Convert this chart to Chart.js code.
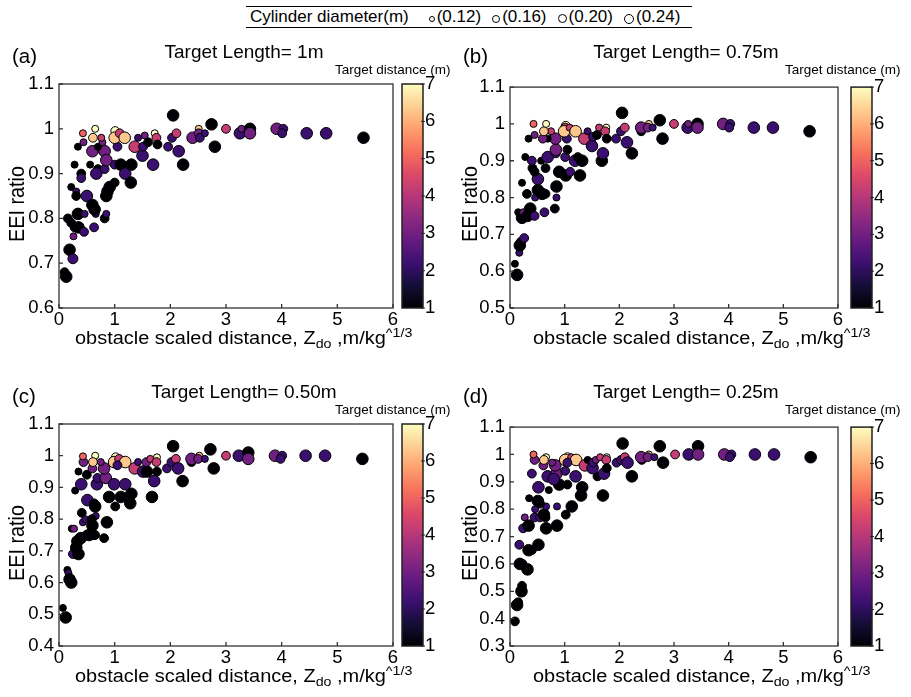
<!DOCTYPE html>
<html>
<head>
<meta charset="utf-8">
<script src="https://cdn.jsdelivr.net/npm/chart.js@4.4.1/dist/chart.umd.min.js"></script>
<style>
  body { margin: 0; background: #fff; width: 911px; height: 697px; position: relative; overflow: hidden;
         font-family: "Liberation Sans", Arial, sans-serif; color: #000; }
  canvas { position: absolute; }
  .txt { position: absolute; white-space: nowrap; line-height: 1; }
  .tag { font-size: 20.5px; }
  .ttl { font-size: 19px; transform: translateX(-50%); }
  .cbt { font-size: 13.5px; }
  .xt { font-size: 17.5px; transform: scaleX(1.14); transform-origin: 0 0; }
  .xt sub { font-size: 12.5px; vertical-align: -4px; }
  .xt sup { font-size: 12.5px; vertical-align: 7px; }
  .yt { font-size: 22px; transform: translate(-50%, -50%) rotate(-90deg) scaleX(0.9); }
  #legend { position: absolute; left: 246px; top: 6px; width: 446px; height: 22px;
            border-top: 1px solid #000; border-bottom: 1px solid #000;
            display: flex; align-items: center; font-size: 17px; padding-left: 4px; box-sizing: border-box; }
  #legend .dot { display: inline-block; border: 1px solid #000; border-radius: 50%; box-sizing: border-box;
                 margin-left: 11px; margin-right: 2px; margin-top: 3px; }
</style>
</head>
<body>
<div id="legend"><span style="margin-right:9px">Cylinder diameter(m)</span></div>

<canvas id="cA" width="452" height="320" style="left:0;top:40px"></canvas>
<canvas id="cB" width="452" height="320" style="left:448px;top:40px"></canvas>
<canvas id="cC" width="452" height="320" style="left:0;top:380px"></canvas>
<canvas id="cD" width="452" height="320" style="left:448px;top:380px"></canvas>

<div class="txt tag" style="left:12px;top:46px">(a)</div>
<div class="txt tag" style="left:463px;top:46px">(b)</div>
<div class="txt tag" style="left:12px;top:386px">(c)</div>
<div class="txt tag" style="left:463px;top:386px">(d)</div>

<div class="txt ttl" id="t0" style="left:244px;top:42px"></div>
<div class="txt ttl" id="t1" style="left:686px;top:42px"></div>
<div class="txt ttl" id="t2" style="left:244px;top:382px"></div>
<div class="txt ttl" id="t3" style="left:686px;top:382px"></div>

<div class="txt cbt" style="left:335px;top:63px">Target distance (m)</div>
<div class="txt cbt" style="left:785px;top:63px">Target distance (m)</div>
<div class="txt cbt" style="left:335px;top:403px">Target distance (m)</div>
<div class="txt cbt" style="left:785px;top:403px">Target distance (m)</div>

<div class="txt yt" style="left:16.5px;top:204px">EEI ratio</div>
<div class="txt yt" style="left:470px;top:204px">EEI ratio</div>
<div class="txt yt" style="left:16.5px;top:543px">EEI ratio</div>
<div class="txt yt" style="left:470px;top:543px">EEI ratio</div>

<div class="txt xt" style="left:75px;top:327px">obstacle scaled distance, Z<sub>do</sub> ,m/kg<sup>^1/3</sup></div>
<div class="txt xt" style="left:533px;top:327px">obstacle scaled distance, Z<sub>do</sub> ,m/kg<sup>^1/3</sup></div>
<div class="txt xt" style="left:75px;top:665px">obstacle scaled distance, Z<sub>do</sub> ,m/kg<sup>^1/3</sup></div>
<div class="txt xt" style="left:533px;top:665px">obstacle scaled distance, Z<sub>do</sub> ,m/kg<sup>^1/3</sup></div>

<script>
// each point: [scaled distance Z, EEI ratio, target distance (m), cylinder diameter (m)]
const panelA = [
  [0.10,0.68,1,.16],[0.13,0.67,1,.24],[0.19,0.73,1,.24],[0.25,0.71,2.2,.20],[0.26,0.76,3,.12],
  [0.16,0.80,1,.16],[0.22,0.79,1,.16],[0.28,0.78,1,.16],[0.35,0.78,1,.24],[0.45,0.77,2.2,.16],
  [0.34,0.81,1,.24],[0.46,0.81,2.2,.12],[0.63,0.78,2.2,.16],[0.66,0.81,2.2,.12],[0.82,0.80,1,.16],
  [0.85,0.81,2.2,.12],[0.22,0.87,1,.12],[0.31,0.86,2.2,.12],[0.31,0.85,1,.16],[0.50,0.85,2.2,.24],
  [0.60,0.83,1,.24],[0.64,0.82,1,.24],[0.85,0.85,1,.24],[0.87,0.86,1,.24],[0.91,0.87,1,.24],
  [1.00,0.88,1,.16],[0.28,0.92,1,.12],[0.40,0.90,1,.16],[0.40,0.89,2.2,.16],[0.56,0.92,1,.12],
  [0.70,0.91,1,.16],[0.67,0.90,2.2,.24],[0.82,0.91,2.2,.16],[1.00,0.92,2.2,.16],[1.11,0.92,1,.24],
  [1.19,0.90,2.2,.24],[1.29,0.88,1,.24],[1.30,0.92,1,.24],[0.34,0.96,1,.12],[0.44,0.97,3,.12],
  [0.60,0.95,3,.24],[0.79,0.95,3,.16],[0.82,0.95,3,.24],[0.85,0.93,3,.24],[0.70,0.96,1,.12],
  [0.78,0.97,3,.12],[0.76,0.98,4.2,.12],[1.05,0.96,2.2,.16],[1.15,0.98,3,.12],[1.36,0.96,4.2,.24],
  [1.42,0.98,2.2,.12],[1.50,0.94,2.2,.24],[1.51,0.96,2.2,.16],[1.60,0.97,1,.16],[1.54,0.985,3,.12],
  [1.69,0.92,2.2,.24],[1.72,0.99,7,.12],[1.75,0.98,4.2,.16],[1.77,0.965,1,.16],[1.96,0.96,2.2,.16],
  [2.03,0.98,2.2,.16],[2.11,0.99,4.2,.16],[2.15,0.95,2.2,.24],[2.23,0.92,1,.24],[2.05,1.03,1,.24],
  [2.40,0.98,3,.24],[2.51,1.00,6.3,.12],[2.51,0.99,3,.16],[2.53,0.98,2.2,.16],[2.62,0.99,2.2,.12],
  [2.74,1.01,1,.24],[2.80,0.96,1,.24],[3.00,1.00,4.2,.16],[0.43,0.99,5,.12],[0.61,0.98,6.3,.16],
  [0.65,1.00,7,.12],[1.01,0.995,7,.16],[1.00,0.98,6.3,.24],[1.09,0.99,4.2,.16],[1.18,0.98,6.3,.24],
  [3.25,0.99,2.2,.24],[3.28,1.00,3,.12],[3.43,1.00,1,.24],[3.43,0.99,3,.24],[3.91,1.00,3,.24],
  [4.03,1.00,2.2,.16],[4.01,0.99,2.2,.16],[4.45,0.99,2.2,.24],[4.80,0.99,2.2,.24],[5.47,0.98,1,.24]
];
const panelB = [
  [0.13,0.59,1,.24],[0.09,0.62,1,.12],[0.17,0.65,2.2,.12],[0.18,0.67,1,.24],[0.20,0.68,1,.16],
  [0.26,0.69,2.2,.16],[0.15,0.76,1,.12],[0.22,0.745,1,.24],[0.24,0.76,3,.12],[0.32,0.75,1,.24],
  [0.37,0.77,1,.24],[0.45,0.75,2.2,.16],[0.63,0.76,2.2,.16],[0.82,0.77,1,.16],[0.22,0.84,1,.12],
  [0.31,0.81,1,.16],[0.46,0.80,2.2,.12],[0.51,0.82,1,.24],[0.59,0.81,1,.24],[0.65,0.81,1,.16],
  [0.85,0.80,2.2,.12],[0.85,0.83,1,.24],[0.51,0.85,2.2,.24],[0.45,0.87,1,.16],[0.41,0.88,1,.16],
  [0.65,0.88,1,.16],[0.90,0.87,1,.24],[1.02,0.86,1,.24],[1.10,0.87,2.2,.16],[1.28,0.86,1,.24],
  [0.28,0.91,1,.12],[0.40,0.90,2.2,.16],[0.57,0.90,1,.12],[0.69,0.91,2.2,.24],[0.84,0.92,2.2,.16],
  [1.01,0.91,2.2,.16],[1.05,0.93,1,.16],[1.19,0.90,2.2,.24],[1.32,0.90,1,.24],[1.24,0.91,1,.16],
  [0.84,0.93,3,.24],[0.83,0.96,3,.24],[0.69,0.96,1,.12],[0.34,0.96,1,.12],[0.45,0.97,3,.12],
  [0.60,0.96,3,.16],[0.75,0.98,4.2,.12],[1.04,0.96,2.2,.16],[1.36,0.96,4.2,.24],[1.42,0.98,2.2,.12],
  [1.50,0.94,2.2,.24],[1.52,0.965,2.2,.16],[1.59,0.97,1,.16],[1.63,0.99,4.2,.12],[1.68,0.90,1,.24],
  [1.70,0.92,2.2,.24],[1.76,0.99,7,.12],[1.74,0.98,4.2,.16],[1.77,0.96,1,.16],[1.94,0.96,2.2,.16],
  [2.03,0.98,2.2,.16],[2.10,0.99,4.2,.16],[2.14,0.95,2.2,.24],[2.23,0.92,1,.24],[2.05,1.03,1,.24],
  [2.40,0.98,1,.16],[2.40,0.99,3,.24],[2.54,1.00,6.3,.12],[2.52,0.99,3,.16],[2.61,0.99,2.2,.12],
  [2.74,1.01,1,.24],[2.79,0.96,1,.24],[3.00,1.00,4.2,.16],[0.43,1.00,5,.12],[0.62,0.98,6.3,.16],
  [0.66,1.00,7,.12],[1.02,0.995,7,.16],[1.01,0.99,4.2,.16],[0.99,0.98,6.3,.24],[1.09,0.99,4.2,.12],
  [1.20,0.98,6.3,.24],[3.25,0.99,2.2,.24],[3.26,1.00,3,.12],[3.43,1.00,1,.24],[3.43,0.99,3,.24],
  [3.90,1.00,3,.24],[4.03,1.00,2.2,.16],[4.01,0.99,2.2,.16],[4.46,0.99,2.2,.24],[4.81,0.99,2.2,.24],
  [5.48,0.98,1,.24]
];
const panelC = [
  [0.07,0.52,1,.12],[0.12,0.49,1,.24],[0.15,0.64,1,.12],[0.17,0.63,2.2,.12],[0.19,0.61,1,.24],
  [0.22,0.60,1,.24],[0.25,0.69,2.2,.16],[0.35,0.69,1,.24],[0.31,0.71,1,.24],[0.33,0.73,1,.24],
  [0.23,0.77,1,.12],[0.27,0.77,3,.12],[0.39,0.74,1,.24],[0.49,0.75,2.2,.16],[0.54,0.75,1,.24],
  [0.63,0.75,2.2,.16],[0.60,0.78,1,.24],[0.65,0.75,1,.16],[0.81,0.74,1,.16],[0.86,0.79,1,.24],
  [0.41,0.82,1,.16],[0.43,0.79,2.2,.12],[0.47,0.80,2.2,.12],[0.66,0.81,2.2,.12],[0.59,0.80,1,.16],
  [0.51,0.86,2.2,.24],[0.65,0.84,1,.24],[0.63,0.85,1,.16],[0.29,0.89,1,.12],[0.40,0.91,2.2,.24],
  [0.50,0.94,1,.16],[0.35,0.95,1,.12],[0.68,0.91,2.2,.24],[0.69,0.93,2.2,.16],[0.84,0.93,3,.24],
  [0.90,0.87,1,.24],[1.01,0.84,1,.16],[0.99,0.91,2.2,.24],[1.11,0.87,1,.24],[1.19,0.91,2.2,.24],
  [1.30,0.88,1,.24],[1.28,0.85,1,.24],[1.67,0.87,1,.24],[1.71,0.92,2.2,.24],[0.44,0.98,3,.16],
  [0.43,0.998,5,.12],[0.60,0.96,3,.16],[0.81,0.96,3,.24],[0.75,0.98,3,.12],[0.65,1.00,7,.12],
  [0.61,0.98,6.3,.16],[1.02,0.995,7,.16],[0.99,0.98,6.3,.24],[1.08,0.99,4.2,.16],[1.19,0.98,6.3,.24],
  [1.05,0.97,2.2,.16],[1.36,0.96,4.2,.24],[1.42,0.98,2.2,.12],[1.51,0.95,2.2,.24],[1.58,0.95,1,.24],
  [1.57,0.98,3,.16],[1.64,0.99,4.2,.12],[1.76,0.995,7,.12],[1.75,0.98,4.2,.16],[1.76,0.95,1,.16],
  [1.94,0.96,2.2,.16],[2.02,0.98,2.2,.16],[2.10,0.99,4.2,.16],[2.14,0.96,2.2,.24],[2.22,0.92,1,.24],
  [2.05,1.03,1,.24],[2.38,0.98,1,.16],[2.38,0.99,3,.24],[2.52,1.00,6.3,.12],[2.50,0.99,3,.16],
  [2.62,0.99,2.2,.12],[2.72,1.02,1,.24],[2.78,0.96,1,.24],[3.00,1.00,4.2,.16],[3.23,1.00,2.2,.24],
  [3.40,1.01,1,.24],[3.40,0.99,3,.24],[3.88,1.00,3,.24],[4.01,1.00,2.2,.16],[3.98,0.99,2.2,.16],
  [4.43,1.00,2.2,.24],[4.78,1.00,2.2,.24],[5.45,0.99,1,.24]
];
const panelD = [
  [0.09,0.39,1,.16],[0.13,0.45,1,.24],[0.15,0.46,1,.16],[0.21,0.50,1,.24],[0.22,0.52,1,.16],
  [0.18,0.60,1,.24],[0.23,0.60,1,.16],[0.32,0.58,1,.24],[0.17,0.67,2.2,.16],[0.34,0.65,1,.24],
  [0.40,0.65,1,.16],[0.52,0.67,1,.24],[0.24,0.73,2.2,.16],[0.27,0.77,3,.12],[0.34,0.74,1,.24],
  [0.45,0.77,2.2,.16],[0.46,0.80,2.2,.12],[0.55,0.77,2.2,.16],[0.62,0.78,1,.24],[0.65,0.77,1,.16],
  [0.66,0.73,1,.24],[0.66,0.81,2.2,.12],[0.86,0.81,2.2,.12],[0.86,0.74,1,.24],[0.35,0.84,1,.12],
  [0.51,0.83,1,.24],[0.55,0.82,1,.16],[1.02,0.78,1,.16],[1.13,0.81,1,.24],[0.52,0.88,2.2,.24],
  [0.71,0.87,1,.12],[0.90,0.89,1,.24],[1.05,0.89,1,.16],[1.32,0.88,1,.24],[1.30,0.85,1,.24],
  [1.70,0.85,1,.24],[0.40,0.93,2.2,.16],[0.69,0.92,2.2,.24],[0.85,0.93,3,.24],[0.80,0.91,2.2,.24],
  [1.01,0.94,2.2,.16],[1.20,0.92,2.2,.24],[1.60,0.92,1,.16],[1.72,0.93,2.2,.24],[0.45,0.98,3,.16],
  [0.43,1.00,5,.12],[0.61,0.96,3,.16],[0.83,0.96,3,.24],[0.77,0.97,3,.12],[0.66,0.99,7,.12],
  [0.62,0.98,6.3,.16],[1.05,0.99,7,.16],[1.01,0.98,6.3,.24],[1.12,0.99,4.2,.12],[1.21,0.98,6.3,.24],
  [1.05,0.97,2.2,.16],[1.37,0.96,4.2,.24],[1.42,0.98,1,.12],[1.51,0.95,2.2,.24],[1.52,0.97,2.2,.16],
  [1.57,0.98,3,.12],[1.65,0.99,4.2,.12],[1.77,0.99,7,.12],[1.76,0.98,4.2,.16],[1.77,0.95,1,.16],
  [1.95,0.97,2.2,.16],[2.03,0.98,2.2,.16],[2.10,0.99,4.2,.16],[2.15,0.97,2.2,.24],[2.23,0.92,1,.24],
  [2.06,1.04,1,.24],[2.41,0.98,1,.16],[2.40,0.99,3,.24],[2.54,1.00,6.3,.12],[2.52,0.99,3,.16],
  [2.64,0.99,2.2,.12],[2.74,1.03,1,.24],[2.80,0.97,1,.24],[3.02,1.00,4.2,.16],[3.27,1.00,2.2,.24],
  [3.44,1.03,1,.24],[3.44,1.00,3,.24],[3.92,1.00,3,.24],[4.05,1.00,2.2,.16],[4.02,0.99,2.2,.16],
  [4.48,1.00,2.2,.24],[4.83,1.00,2.2,.24],[5.50,0.99,1,.24]
];

const titles = ['Target Length= 1m', 'Target Length= 0.75m', 'Target Length= 0.50m', 'Target Length= 0.25m'];
const yMins = [0.6, 0.5, 0.4, 0.3];
const diameters = [0.12, 0.16, 0.20, 0.24];
const distRange = [1, 7];

const FONT = '"Liberation Sans", Arial, sans-serif';
const radii = [3.5, 4.4, 5.0, 5.8];
const legendDots = [6, 8, 9, 10];
const magma = ['#000004', '#140e36', '#3b0f70', '#641a80', '#8c2981', '#b73779',
               '#de4968', '#f7705c', '#fe9f6d', '#fecf92', '#fcfdbf'];

function hex(c) { return [1, 3, 5].map(i => parseInt(c.substr(i, 2), 16)); }
function cmap(v) {
  let t = (v - distRange[0]) / (distRange[1] - distRange[0]);
  t = Math.max(0, Math.min(1, t)) * (magma.length - 1);
  const i = Math.min(Math.floor(t), magma.length - 2), f = t - i;
  const a = hex(magma[i]), b = hex(magma[i + 1]);
  return 'rgb(' + a.map((x, k) => Math.round(x + (b[k] - x) * f)).join(',') + ')';
}
function radius(d) { return radii[diameters.indexOf(d)]; }

titles.forEach((t, i) => { document.getElementById('t' + i).textContent = t; });

// legend
const leg = document.getElementById('legend');
diameters.forEach((d, i) => {
  const dot = document.createElement('span');
  dot.className = 'dot';
  dot.style.width = dot.style.height = legendDots[i] + 'px';
  leg.appendChild(dot);
  const s = document.createElement('span');
  s.textContent = '(' + d.toFixed(2) + ')';
  leg.appendChild(s);
});

// box + inward ticks
const framePlugin = {
  id: 'frame',
  afterDatasetsDraw(chart) {
    const { ctx, chartArea: a, scales } = chart;
    ctx.save();
    ctx.strokeStyle = '#333';
    ctx.lineWidth = 1.3;
    ctx.beginPath();
    scales.x.ticks.forEach(t => {
      const px = scales.x.getPixelForValue(t.value);
      ctx.moveTo(px, a.bottom); ctx.lineTo(px, a.bottom - 4);
    });
    scales.y.ticks.forEach(t => {
      const py = scales.y.getPixelForValue(t.value);
      ctx.moveTo(a.left, py); ctx.lineTo(a.left + 4, py);
    });
    ctx.stroke();
    ctx.strokeRect(a.left, a.top, a.right - a.left, a.bottom - a.top);
    ctx.restore();
  }
};

const colorbarPlugin = {
  id: 'colorbar',
  afterDraw(chart, args, opts) {
    const { ctx } = chart;
    const cb = chart.scales.cb;
    const x0 = cb.left + opts.gap, w = 21;
    const top = cb.getPixelForValue(distRange[1]), bot = cb.getPixelForValue(distRange[0]);
    const g = ctx.createLinearGradient(0, bot, 0, top);
    magma.forEach((c, i) => g.addColorStop(i / (magma.length - 1), c));
    ctx.save();
    ctx.fillStyle = g;
    ctx.fillRect(x0, top, w, bot - top);
    ctx.strokeStyle = '#222';
    ctx.lineWidth = 1.5;
    ctx.strokeRect(x0, top, w, bot - top);
    ctx.lineWidth = 1;
    ctx.beginPath();
    cb.ticks.forEach(t => {
      const py = cb.getPixelForValue(t.value);
      ctx.moveTo(x0 + w - 2, py); ctx.lineTo(x0 + w + 2, py);
    });
    ctx.stroke();
    ctx.restore();
  }
};

const panels = [
  { id: 'cA', pts: panelA, yw: 59, cw: 59, gap: 9, xh: 52 },
  { id: 'cB', pts: panelB, yw: 62, cw: 62, gap: 13, xh: 52 },
  { id: 'cC', pts: panelC, yw: 59, cw: 59, gap: 9, xh: 54 },
  { id: 'cD', pts: panelD, yw: 62, cw: 62, gap: 13, xh: 54 }
];

panels.forEach((p, i) => {
  const tickFont = { family: FONT, size: 18.5 };
  new Chart(document.getElementById(p.id), {
    type: 'scatter',
    data: {
      datasets: [{
        data: p.pts.map(r => ({ x: r[0], y: r[1] })),
        pointRadius: p.pts.map(r => radius(r[3])),
        pointHoverRadius: p.pts.map(r => radius(r[3])),
        pointBackgroundColor: p.pts.map(r => cmap(r[2])),
        pointBorderColor: '#000',
        pointBorderWidth: 1
      }]
    },
    options: {
      responsive: false,
      animation: false,
      layout: { padding: { top: 44 } },
      plugins: {
        legend: { display: false },
        tooltip: { enabled: false },
        colorbar: { gap: p.gap }
      },
      scales: {
        x: {
          type: 'linear', min: 0, max: 6,
          ticks: { stepSize: 1, color: '#000', font: tickFont, padding: 1 },
          grid: { display: false, drawTicks: false },
          border: { display: false },
          afterFit(s) { s.height = p.xh; }
        },
        y: {
          min: yMins[i], max: 1.1,
          ticks: { stepSize: 0.1, color: '#000', font: tickFont, padding: 5,
                   callback: v => String(Math.round(v * 10) / 10) },
          grid: { display: false, drawTicks: false },
          border: { display: false },
          afterFit(s) { s.width = p.yw; }
        },
        cb: {
          position: 'right', min: distRange[0], max: distRange[1],
          ticks: { stepSize: 1, color: '#000', font: tickFont, padding: p.gap + 23 },
          grid: { display: false, drawTicks: false },
          border: { display: false },
          afterFit(s) { s.width = p.cw; }
        }
      }
    },
    plugins: [framePlugin, colorbarPlugin]
  });
});
</script>
</body>
</html>
